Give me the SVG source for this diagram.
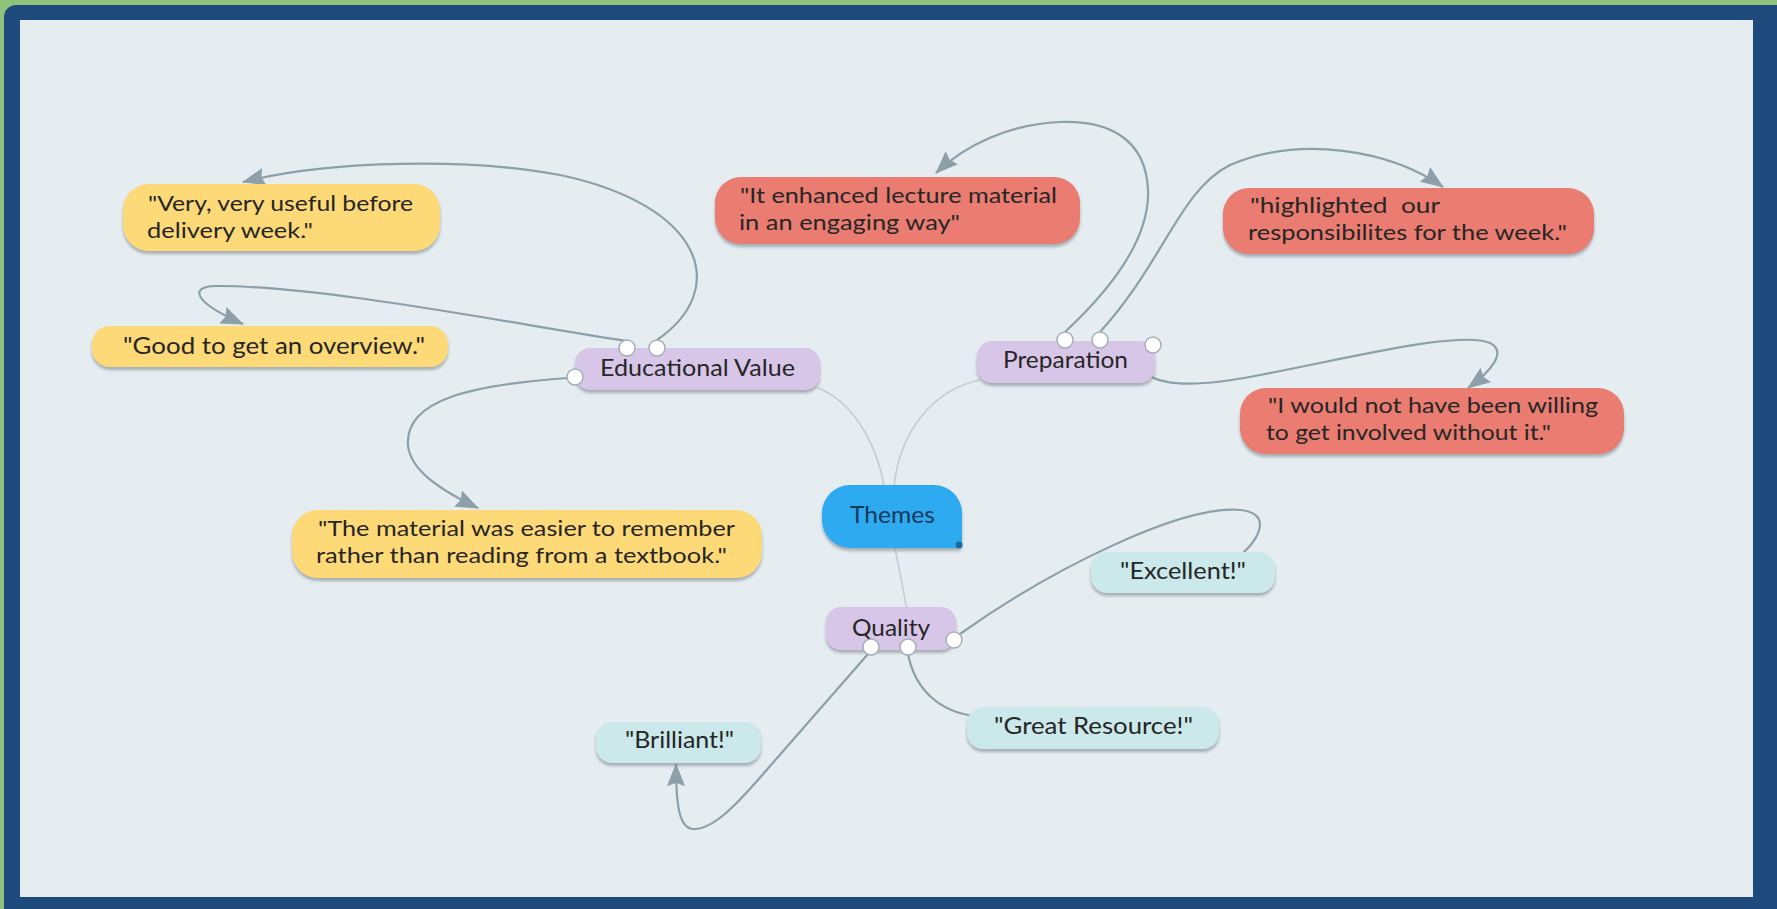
<svg xmlns="http://www.w3.org/2000/svg" width="1777" height="909" viewBox="0 0 1777 909">
<defs>
<style>
.t{font-family:Lato,"Noto Sans","Liberation Sans",sans-serif;font-size:24px;fill:#262626}
.t2{font-size:22px}
.tm{fill:#17395c}
.y{fill:#fdd977}
.r{fill:#ea7b71}
.p{fill:#d8c6e9}
.c{fill:#cbe8ea}
.node{filter:url(#sh)}
.con{fill:none;stroke:#8d9fa9;stroke-width:2.2}
.lite{fill:none;stroke:#c4cdd2;stroke-width:1.6}
.h{fill:#ffffff;stroke:#a3b0b7;stroke-width:1.5}
</style>
<filter id="sh" x="-10%" y="-20%" width="120%" height="160%">
<feDropShadow dx="0" dy="3" stdDeviation="1.6" flood-color="#6f7b82" flood-opacity="0.55"/>
</filter>
<marker id="ar" markerUnits="userSpaceOnUse" markerWidth="26" markerHeight="22" refX="22" refY="9" orient="auto">
<path d="M0,0 L23,9 L0,18 L3,9 Z" fill="#8d9fa9"/>
</marker>
</defs>
<rect x="0" y="0" width="1777" height="909" fill="#8fc27b"/>
<rect x="4" y="5" width="1800" height="930" rx="12" fill="#1f4a7e"/>
<rect x="20" y="20" width="1733" height="877" fill="#e5edf1"/>

<g id="connectors">
<path class="lite" d="M818,388 C850,400 876,440 884,486"/>
<path class="lite" d="M980,380 C932,390 900,432 894,486"/>
<path class="lite" d="M895,548 C900,575 906,600 910,630"/>
<path class="con" marker-end="url(#ar)" d="M657,340 C732,288 702,205 560,175 C470,158 330,160 243,182"/>
<path class="con" marker-end="url(#ar)" d="M627,341 C520,325 320,285 215,286 C188,287 195,303 243,324"/>
<path class="con" marker-end="url(#ar)" d="M568,378 C470,385 405,400 408,445 C410,470 440,490 478,508"/>
<path class="con" marker-end="url(#ar)" d="M1065,332 C1110,290 1150,240 1148,190 C1146,140 1110,120 1060,122 C1010,124 965,145 936,173"/>
<path class="con" marker-end="url(#ar)" d="M1100,332 C1165,260 1180,190 1230,165 C1300,135 1390,150 1443,187"/>
<path class="con" marker-end="url(#ar)" d="M1150,376 C1170,388 1210,385 1260,375 C1350,358 1460,330 1490,343 C1508,352 1490,372 1468,388"/>
<path class="con" d="M960,634 C1050,570 1180,505 1240,510 C1270,513 1262,535 1243,553"/>
<path class="con" d="M908,654 C915,690 940,712 975,716"/>
<path class="con" marker-end="url(#ar)" d="M868,654 L757,781 C735,806 712,830 693,829 C679,828 676,805 676,764"/>
</g>

<g id="n-very">
<rect class="node y" x="123" y="184" width="317" height="67" rx="26"/>
<text class="t t2" x="148" y="211" textLength="265" lengthAdjust="spacingAndGlyphs">"Very, very useful before</text>
<text class="t t2" x="147" y="238" textLength="166" lengthAdjust="spacingAndGlyphs">delivery week."</text>
</g>
<g id="n-good">
<rect class="node y" x="92" y="326" width="356" height="41" rx="18"/>
<text class="t" x="123" y="354" textLength="302" lengthAdjust="spacingAndGlyphs">"Good to get an overview."</text>
</g>
<g id="n-edval">
<rect class="node p" x="575" y="348" width="245" height="42" rx="15"/>
<text class="t" x="600" y="376" textLength="195" lengthAdjust="spacingAndGlyphs">Educational Value</text>
<circle class="h" cx="627" cy="348" r="8"/>
<circle class="h" cx="657" cy="348" r="8"/>
<circle class="h" cx="575" cy="377" r="8"/>
</g>
<g id="n-material">
<rect class="node y" x="292" y="510" width="470" height="68" rx="26"/>
<text class="t t2" x="318" y="536" textLength="417" lengthAdjust="spacingAndGlyphs">"The material was easier to remember</text>
<text class="t t2" x="316" y="563" textLength="411" lengthAdjust="spacingAndGlyphs">rather than reading from a textbook."</text>
</g>
<g id="n-enhanced">
<rect class="node r" x="715" y="177" width="365" height="67" rx="26"/>
<text class="t t2" x="740" y="203" textLength="317" lengthAdjust="spacingAndGlyphs">"It enhanced lecture material</text>
<text class="t t2" x="739" y="230" textLength="221" lengthAdjust="spacingAndGlyphs">in an engaging way"</text>
</g>
<g id="n-highlighted">
<rect class="node r" x="1223" y="188" width="371" height="66" rx="26"/>
<text class="t t2" x="1250" y="213" textLength="190" lengthAdjust="spacingAndGlyphs" style="white-space:pre">"highlighted  our</text>
<text class="t t2" x="1248" y="240" textLength="319" lengthAdjust="spacingAndGlyphs">responsibilites for the week."</text>
</g>
<g id="n-prep">
<rect class="node p" x="977" y="341" width="178" height="42" rx="15"/>
<text class="t" x="1003" y="368" textLength="125" lengthAdjust="spacingAndGlyphs">Preparation</text>
<circle class="h" cx="1065" cy="340" r="8"/>
<circle class="h" cx="1100" cy="340" r="8"/>
<circle class="h" cx="1153" cy="345" r="8"/>
</g>
<g id="n-willing">
<rect class="node r" x="1240" y="388" width="384" height="66" rx="26"/>
<text class="t t2" x="1268" y="413" textLength="330" lengthAdjust="spacingAndGlyphs">"I would not have been willing</text>
<text class="t t2" x="1266" y="440" textLength="285" lengthAdjust="spacingAndGlyphs">to get involved without it."</text>
</g>
<g id="n-themes">
<path class="node" fill="#2eaaf0" d="M850,485 H934 A28,28 0 0 1 962,513 V544 A4,4 0 0 1 958,548 H850 A28,28 0 0 1 822,520 V513 A28,28 0 0 1 850,485 Z"/>
<text class="t tm" x="850" y="523" textLength="85" lengthAdjust="spacingAndGlyphs">Themes</text>
<circle cx="959" cy="545" r="3.5" fill="#1d6aa0"/>
</g>
<g id="n-excellent">
<rect class="node c" x="1091" y="552" width="184" height="41" rx="16"/>
<text class="t" x="1120" y="579" textLength="126" lengthAdjust="spacingAndGlyphs">"Excellent!"</text>
</g>
<g id="n-quality">
<rect class="node p" x="826" y="607" width="130" height="43" rx="15"/>
<text class="t" x="852" y="636" textLength="78" lengthAdjust="spacingAndGlyphs">Quality</text>
<circle class="h" cx="871" cy="647" r="8"/>
<circle class="h" cx="908" cy="647" r="8"/>
<circle class="h" cx="954" cy="640" r="8"/>
</g>
<g id="n-brilliant">
<rect class="node c" x="596" y="722" width="165" height="41" rx="16"/>
<text class="t" x="625" y="748" textLength="109" lengthAdjust="spacingAndGlyphs">"Brilliant!"</text>
</g>
<g id="n-great">
<rect class="node c" x="967" y="707" width="252" height="42" rx="16"/>
<text class="t" x="994" y="734" textLength="199" lengthAdjust="spacingAndGlyphs">"Great Resource!"</text>
</g>
</svg>
